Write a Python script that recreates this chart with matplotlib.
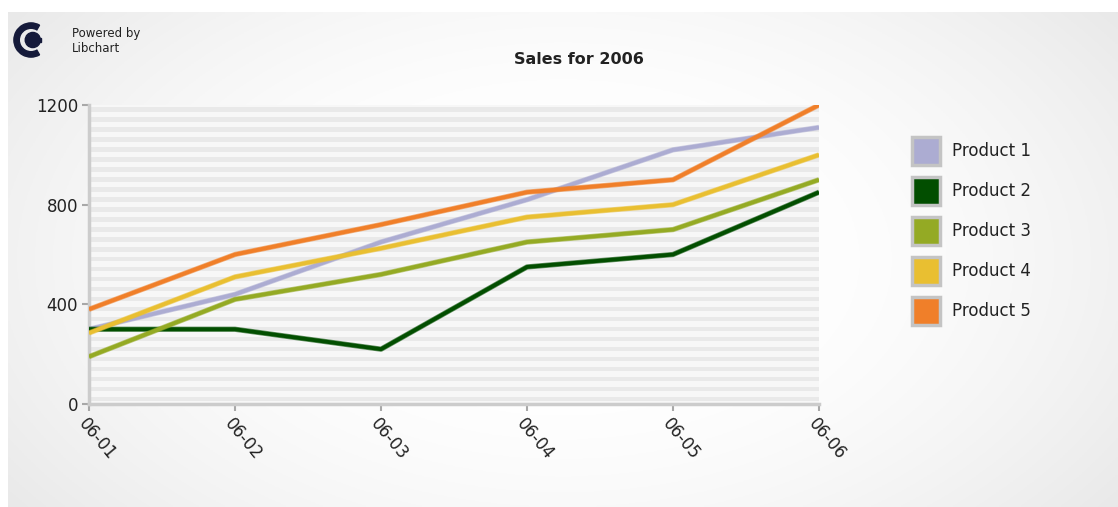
import numpy as np
import matplotlib
matplotlib.use('Agg')
import matplotlib.pyplot as plt
from matplotlib.patches import Rectangle, Wedge, Circle
import matplotlib.patheffects as pe

days = ['06-01', '06-02', '06-03', '06-04', '06-05', '06-06']
products = ['Product 1', 'Product 2', 'Product 3', 'Product 4', 'Product 5']
product1 = [300, 440, 650, 820, 1020, 1110]
product2 = [300, 300, 220, 550, 600, 850]
product3 = [190, 420, 520, 650, 700, 900]
product4 = [285, 510, 625, 750, 800, 1000]
product5 = [380, 600, 720, 850, 900, 1200]
colors = ['#acacd2', '#024e00', '#94aa24', '#e9bf31', '#f07f29']
yticks = [0, 400, 800, 1200]

W, H = 1118, 507
fig = plt.figure(figsize=(W / 100, H / 100), dpi=100)
fig.patch.set_facecolor('white')

# background gradient (white centre, grey edges)
bg = fig.add_axes([8 / W, 0, 1 - 8 / W, 1 - 12 / H])
gx, gy = np.meshgrid(np.linspace(-1, 1, 400), np.linspace(-1, 1, 200))
r = np.sqrt((gx * 0.75) ** 2 + (gy * 0.55) ** 2)
shade = 1.0 - 0.16 * np.clip(r - 0.25, 0, None) ** 1.6
bg.imshow(np.dstack([shade] * 3), aspect='auto', extent=[0, 1, 0, 1], origin='upper')
bg.axis('off')

ax = fig.add_axes([89 / W, 1 - 404 / H, (819 - 89) / W, (404 - 105) / H])
ax.set_facecolor('#f7f7f7')
for yb in range(0, 1200, 40):
    ax.axhspan(yb + 12, yb + 30, color='#e9e9e9', lw=0, zorder=0)

x = np.arange(len(days))
series = [product1, product2, product3, product4, product5]
for vals, c in zip(series, colors):
    ax.plot(x, vals, color=c, lw=2.8, solid_capstyle='butt', zorder=3,
            path_effects=[pe.Stroke(linewidth=3.8, foreground=c, alpha=0.6), pe.Normal()])

ax.set_xlim(0, len(days) - 1)
ax.set_ylim(0, 1200)
ax.set_xticks(x)
ax.set_xticklabels(days, rotation=-50, ha='left', va='top', rotation_mode='anchor',
                   fontsize=12, color='#222222')
ax.set_yticks(yticks)
ax.set_yticklabels([str(v) for v in yticks], fontsize=12, color='#222222')
ax.tick_params(axis='both', color='#a8a8a8', length=5, width=1.5, pad=3)
for s in ['top', 'right']:
    ax.spines[s].set_visible(False)
for s in ['left', 'bottom']:
    ax.spines[s].set_color('#cccccc')
    ax.spines[s].set_linewidth(2.5)

fig.text(579 / W, 1 - 59 / H, 'Sales for 2006', ha='center', va='center',
         fontsize=11.5, fontweight='bold', color='#222222')

# legend
for i, (name, c) in enumerate(zip(products, colors)):
    yc = 151 + 40 * i
    fig.patches.append(Rectangle((912 / W, 1 - (yc + 14) / H), 28 / W, 28 / H,
                                 transform=fig.transFigure, facecolor=c,
                                 edgecolor='#c4c4c4', lw=2.5))
    fig.text(952 / W, 1 - yc / H, name, ha='left', va='center', fontsize=12,
             color='#222222')

# logo
logo = fig.add_axes([13 / W, 1 - 58 / H, 36 / W, 36 / H])
logo.set_xlim(-1, 1)
logo.set_ylim(-1, 1)
logo.set_aspect('equal')
logo.add_patch(Wedge((0, 0), 0.95, 60, 300, width=0.3, color='#151a3a'))
logo.add_patch(Circle((0.1, 0), 0.42, color='#151a3a'))
logo.add_patch(Rectangle((0.1, -0.12), 0.45, 0.24, color='#151a3a'))
logo.axis('off')
fig.text(72 / W, 1 - 33 / H, 'Powered by', fontsize=8.5, va='center', color='#222222')
fig.text(72 / W, 1 - 48 / H, 'Libchart', fontsize=8.5, va='center', color='#222222')

fig.savefig('out.png', dpi=100)
